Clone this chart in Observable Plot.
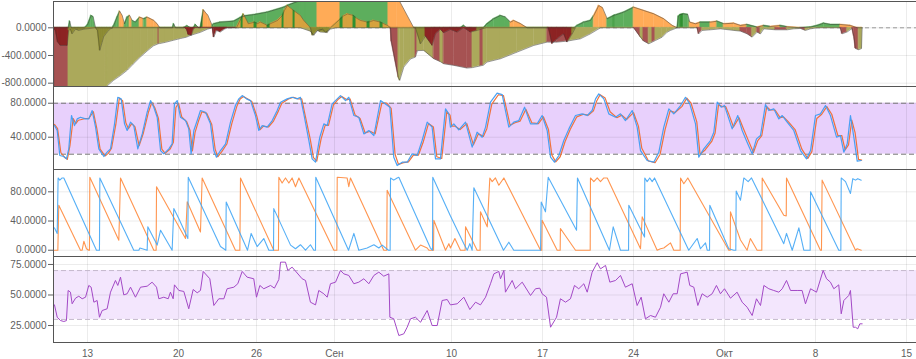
<!DOCTYPE html>
<html><head><meta charset="utf-8">
<script src="https://cdn.jsdelivr.net/npm/d3@7"></script>
<script src="https://cdn.jsdelivr.net/npm/@observablehq/plot@0.6"></script>
<style>
body{margin:0;background:#fff;}
#chart{position:relative;width:916px;height:359px;overflow:hidden;background:#fff;}
</style></head><body><div id="chart"></div>
<script>
// ---- time axis (days from 13 Aug) ----
const xTickDays = [0, 7, 13, 19, 28, 35, 42, 49, 56, 63];
const xTickLabels = ["13","20","26","Сен","10","17","24","Окт","8","15"];
const xRangeDays = [-2.615, 63.77];

// ---- panel 1: oscillator envelopes [day, value, colourClass] ----
const posEnvelope = [[-2.62,0,"G"],[-1.46,0,"G"],[-1.36,96,"G"],[-1.25,0,"G"],[-0.23,0,"G"],[0,40,"G"],[0.28,178,"G"],[0.44,160,"G"],[0.62,0,"G"],[1.92,0,"G"],[2.02,34,"G"],[2.28,154,"G"],[2.48,240,"O"],[2.67,178,"O"],[2.85,58,"G"],[3.05,154,"G"],[3.25,178,"O"],[3.44,106,"G"],[3.69,82,"G"],[4.02,154,"O"],[4.33,130,"G"],[4.59,154,"O"],[4.85,130,"O"],[5.1,106,"O"],[5.36,58,"O"],[5.56,0,"G"],[6.54,0,"G"],[6.64,58,"G"],[6.77,0,"G"],[7.38,0,"G"],[7.67,29,"G"],[7.92,0,"G"],[8.15,0,"G"],[8.31,48,"G"],[8.54,0,"G"],[8.69,0,"D"],[8.92,260,"O"],[9.08,220,"O"],[9.27,178,"O"],[9.59,34,"G"],[9.72,58,"G"],[10.23,82,"G"],[11.25,96,"G"],[11.77,150,"G"],[12.15,175,"G"],[12.79,190,"G"],[13.82,226,"G"],[15.1,298,"G"],[15.46,330,"G"],[16.38,394,"G"],[16.77,450,"G"],[17.69,450,"O"],[19.46,450,"G"],[23.15,450,"O"],[23.82,450,"O"],[25.1,0,"G"],[28.69,0,"G"],[28.95,34,"G"],[29.15,0,"G"],[30.46,0,"G"],[30.74,58,"G"],[31.25,130,"G"],[31.77,178,"G"],[32.15,154,"G"],[32.54,82,"O"],[32.79,106,"O"],[33.31,60,"O"],[33.82,0,"G"],[37.46,0,"G"],[37.67,34,"G"],[38.18,82,"G"],[38.69,106,"G"],[38.95,178,"O"],[39.33,322,"O"],[39.62,290,"O"],[39.98,130,"G"],[40.49,178,"D"],[40.6,185,"G"],[41.25,226,"G"],[42.02,298,"O"],[42.79,250,"O"],[43.56,202,"O"],[44.33,130,"O"],[44.98,34,"O"],[45.36,0,"G"],[45.46,170,"G"],[45.62,192,"D"],[45.87,202,"G"],[46.18,192,"G"],[46.33,82,"O"],[46.77,58,"O"],[47.15,82,"G"],[47.92,82,"O"],[48.44,96,"G"],[48.95,58,"O"],[49.72,67,"O"],[50.23,34,"O"],[50.74,48,"G"],[51.51,10,"O"],[52.03,34,"G"],[52.54,19,"O"],[53.31,34,"G"],[53.82,15,"O"],[54.85,0,"G"],[55.62,10,"G"],[56.13,34,"G"],[56.64,67,"G"],[57.15,48,"G"],[57.92,48,"O"],[58.69,34,"O"],[59.21,0,"O"],[59.62,0,"O"]];
const negEnvelope = [[-2.62,0,"R"],[-2.59,-950,"R"],[-1.46,-950,"V"],[1.38,-950,"V"],[1.54,-835,"V"],[2,-760,"V"],[2.54,-690,"V"],[3.08,-610,"V"],[3.54,-520,"V"],[4.08,-420,"V"],[4.62,-330,"V"],[5.08,-260,"V"],[5.46,-230,"R"],[5.54,-228,"V"],[6,-210,"V"],[6.62,-180,"V"],[7.15,-155,"V"],[7.62,-135,"V"],[7.92,-110,"V"],[8.69,-65,"V"],[9.23,-20,"V"],[9.62,0,"K"],[9.72,-135,"K"],[9.92,-40,"K"],[10.23,-60,"K"],[10.54,-20,"K"],[10.77,0,"V"],[16.38,0,"V"],[17.15,-50,"V"],[17.41,-110,"V"],[17.69,-40,"V"],[18.08,-20,"V"],[18.31,-62,"V"],[18.69,-20,"V"],[19.08,0,"V"],[23.31,0,"R"],[23.38,-200,"R"],[23.92,-720,"V"],[24.02,-760,"V"],[24.33,-568,"V"],[24.85,-450,"V"],[25.23,-423,"R"],[25.38,-330,"V"],[25.87,-327,"V"],[26.64,-447,"R"],[27.15,-490,"V"],[27.41,-520,"R"],[28.18,-543,"R"],[29.2,-582,"R"],[29.62,-575,"V"],[30.23,-550,"R"],[30.46,-540,"V"],[30.74,-495,"V"],[31.77,-447,"V"],[33.05,-351,"V"],[34.33,-255,"V"],[35.36,-207,"R"],[36.13,-207,"R"],[36.92,-192,"V"],[37.92,-159,"V"],[38.69,-87,"V"],[39.46,0,"V"],[42.02,0,"R"],[42.54,-135,"V"],[42.77,-190,"R"],[43.18,-231,"V"],[43.46,-205,"R"],[43.69,-183,"V"],[44.21,-135,"V"],[44.59,-63,"V"],[44.85,-38,"V"],[45.36,0,"V"],[46.9,0,"R"],[47.02,-87,"R"],[47.28,-38,"V"],[47.92,-29,"V"],[48.69,-15,"V"],[49.72,-38,"V"],[50.23,-48,"R"],[50.74,-87,"R"],[51.13,-135,"V"],[51.51,-63,"R"],[51.77,-87,"V"],[52.03,-15,"V"],[52.92,-29,"R"],[53.82,-29,"V"],[54.31,-15,"V"],[54.85,-10,"R"],[55.23,-38,"V"],[55.62,-15,"V"],[56.13,0,"V"],[57.92,0,"R"],[58.05,-87,"R"],[58.44,-60,"V"],[58.82,-10,"R"],[58.95,-120,"R"],[59.08,-300,"R"],[59.33,-317,"V"],[59.54,-300,"V"],[59.59,0,"V"]];
const fastSeries = [[-2.62,0,"K"],[-2.46,-40,"K"],[-2.28,-207,"K"],[-2.08,-255,"K"],[-1.56,-255,"K"],[-1.44,-38,"W"],[-1.31,-20,"W"],[-1.18,-87,"W"],[-0.92,-20,"W"],[-0.67,-38,"W"],[-0.28,-20,"W"],[0.62,0,"W"],[0.77,-38,"W"],[0.95,-327,"W"],[1.13,-207,"W"],[1.25,-130,"W"],[1.52,-60,"W"],[1.77,-15,"W"],[2,0,"W"],[7.46,0,"K"],[7.62,-20,"K"],[7.77,-100,"K"],[8,-110,"K"],[8.15,-20,"K"],[8.31,0,"K"],[11.46,0,"Y"],[11.85,150,"D"],[12,200,"Y"],[12.38,58,"Y"],[12.85,82,"D"],[13.08,60,"Y"],[13.31,82,"Y"],[13.85,34,"D"],[14.08,60,"Y"],[14.62,106,"Y"],[15,178,"D"],[15.15,250,"Y"],[15.38,322,"Y"],[15.85,250,"D"],[16,230,"Y"],[16.38,178,"Y"],[16.62,110,"Y"],[16.92,48,"Y"],[17.15,0,"W"],[17.31,-110,"W"],[17.69,-40,"W"],[17.92,-62,"W"],[18.46,-70,"W"],[18.69,0,"Y"],[19.46,130,"D"],[19.69,170,"Y"],[20,200,"Y"],[20.46,178,"D"],[20.69,140,"Y"],[21,106,"Y"],[21.54,82,"D"],[21.77,90,"Y"],[22,106,"Y"],[22.54,82,"D"],[22.77,60,"Y"],[23.08,34,"Y"],[23.31,0,"Y"],[25.23,0,"W"],[25.62,-231,"W"],[26,-120,"K"],[26.52,-255,"K"],[26.77,-87,"K"],[27.15,-25,"K"],[27.41,-72,"K"],[27.92,-25,"K"],[28.44,-62,"K"],[28.95,0,"K"],[29.46,-62,"K"],[29.98,-38,"W"],[30.36,-15,"W"],[30.69,0,"W"],[35.46,0,"K"],[35.75,-231,"K"],[36.13,-159,"K"],[36.64,-87,"K"],[36.9,-207,"K"],[37.29,-87,"W"],[37.54,0,"W"]];
const p1Ticks = [0, -400, -800];

// ---- panel 2: stochastic [day, value] ----
const stochK = [[-2.54,53.7],[-2.33,47.9],[-2.13,18.5],[-1.82,17.3],[-1.62,14.5],[-1.44,26.3],[-1.23,65.5],[-1,53.7],[-0.79,61.6],[-0.54,63.5],[-0.15,61.6],[0.1,61.6],[0.36,71.4],[0.62,51.8],[0.87,26.3],[1.26,17.3],[1.51,22.4],[1.77,26.3],[2.08,55.7],[2.33,87],[2.59,85.1],[2.85,55.7],[3.05,47.9],[3.31,57.7],[3.56,53.7],[3.87,26.3],[4.21,43.9],[4.59,69.4],[4.85,83.1],[5.1,75.3],[5.36,63.5],[5.62,24.3],[5.87,20.4],[6.26,26.3],[6.51,32.2],[6.69,79.2],[6.9,83.1],[7.15,63.5],[7.54,59.6],[7.79,49.8],[7.97,20.4],[8.18,47.9],[8.44,59.6],[8.69,71.4],[9.08,69.4],[9.46,55.7],[9.72,24.3],[9.92,16.5],[10.23,24.3],[10.62,32.2],[11,57.7],[11.38,77.3],[11.64,85.1],[11.9,89],[12.23,85.1],[12.54,83.1],[12.92,65.5],[13.18,47.9],[13.44,53.7],[13.82,51.8],[14.21,59.6],[14.59,71.4],[14.85,81.2],[15.36,85.1],[15.74,87],[16.13,85.1],[16.38,87],[16.64,67.5],[17.03,36.1],[17.28,14.5],[17.54,10.6],[17.87,40],[18.18,55.7],[18.44,53.7],[18.82,79.2],[19.21,85.1],[19.46,89],[19.85,83.1],[20.1,87],[20.49,65.5],[20.87,63.5],[21.26,43.9],[21.64,47.9],[22.03,42],[22.54,83.1],[22.92,79.2],[23.26,75.3],[23.56,16.5],[23.82,6.7],[24.21,10.6],[24.59,10.6],[24.97,20.4],[25.36,18.5],[25.74,36.1],[26.13,57.7],[26.51,51.8],[26.77,14.5],[27.15,14.5],[27.54,73.4],[27.79,67.5],[27.92,51.8],[28.18,55.7],[28.56,48.6],[29.08,57.7],[29.59,28.3],[29.97,45.9],[30.36,40],[30.62,51.8],[31,81.2],[31.51,91.8],[31.9,90.2],[32.41,51.8],[32.79,57.7],[33.18,59.6],[33.62,75.3],[34.08,55.7],[34.59,55.7],[34.97,65.5],[35.36,47.9],[35.62,16.5],[35.92,10.6],[36.26,18.5],[36.64,36.1],[37.03,49.8],[37.54,65.5],[38.05,67.5],[38.44,65.5],[38.82,71.4],[39.08,85.1],[39.33,91],[39.72,85.1],[40.1,67.5],[40.62,63.5],[41,67.5],[41.38,59.6],[41.9,71.4],[42.28,51.8],[42.54,24.3],[43.05,12.6],[43.56,10.6],[43.95,22.4],[44.33,51.8],[44.72,73.4],[45.1,67.5],[45.62,77.3],[46,87],[46.33,79.2],[46.77,55.7],[47.02,16.5],[47.41,26.3],[47.92,36.1],[48.18,45.9],[48.44,81.2],[48.75,75.3],[49,77.3],[49.21,67.5],[49.59,49.8],[50.02,65.5],[50.36,47.9],[50.74,34.1],[51.13,20.4],[51.46,38],[51.77,42],[52.15,78.4],[52.41,71.4],[52.79,73.4],[53.18,61.6],[53.44,65.5],[53.82,57.7],[54.33,47.9],[54.85,24.3],[55.31,14.5],[55.62,24.3],[56,65.5],[56.38,67.5],[56.77,77.3],[57.15,65.5],[57.62,40],[57.92,42],[58.18,22.4],[58.44,32.2],[58.69,65.5],[58.95,40],[59.21,11.8],[59.52,12.6]];
const stochD = [[-2.54,55],[-2.3,50],[-2.05,22],[-1.75,16],[-1.55,14],[-1.35,30],[-1.1,62],[-0.9,56],[-0.7,60],[-0.15,62],[0.1,62],[0.45,70],[0.72,50],[0.97,26],[1.35,18],[1.6,21],[1.85,27],[2.18,55],[2.45,86],[2.7,83],[2.95,57],[3.15,50],[3.4,56],[3.66,52],[3.97,30],[4.3,45],[4.7,70],[4.95,81],[5.2,74],[5.46,62],[5.72,26],[5.97,21],[6.36,26],[6.61,34],[6.8,75],[7,80],[7.25,64],[7.64,58],[7.89,48],[8.07,24],[8.28,46],[8.54,59],[8.8,70],[9.18,68],[9.56,55],[9.82,26],[10.02,17],[10.33,23],[10.72,32],[11.1,56],[11.48,76],[11.74,85],[12,88],[12.33,85],[12.64,82],[13.02,65],[13.28,49],[13.54,53],[13.92,52],[14.31,59],[14.69,71],[14.95,80],[15.46,85],[15.84,87],[16.23,85],[16.48,85],[16.74,66],[17.13,38],[17.38,16],[17.64,12],[17.97,38],[18.28,54],[18.54,54],[18.92,78],[19.31,85],[19.56,88],[19.95,84],[20.2,85],[20.59,66],[20.97,62],[21.36,45],[21.74,47],[22.13,44],[22.64,80],[23.02,80],[23.36,74],[23.66,20],[23.92,8],[24.31,10],[24.69,11],[25.07,19],[25.46,19],[25.84,35],[26.23,56],[26.61,52],[26.87,17],[27.25,15],[27.64,70],[27.89,66],[28.02,53],[28.28,53],[28.66,49],[29.18,56],[29.69,31],[30.07,44],[30.46,41],[30.72,50],[31.1,79],[31.61,90],[32,89],[32.51,54],[32.89,57],[33.28,59],[33.72,73],[34.18,57],[34.69,56],[35.07,64],[35.46,49],[35.72,19],[36.02,11],[36.36,17],[36.74,35],[37.13,49],[37.64,64],[38.15,67],[38.54,66],[38.92,71],[39.18,83],[39.43,90],[39.82,86],[40.2,70],[40.72,63],[41.1,66],[41.48,61],[42,69],[42.38,53],[42.64,27],[43.15,12],[43.66,10],[44.05,20],[44.43,49],[44.82,71],[45.2,69],[45.72,76],[46.1,86],[46.43,80],[46.87,58],[47.12,20],[47.51,25],[48.02,35],[48.28,45],[48.54,78],[48.85,76],[49.1,76],[49.31,68],[49.69,52],[50.12,63],[50.46,50],[50.84,36],[51.23,22],[51.56,36],[51.87,42],[52.25,76],[52.51,72],[52.89,72],[53.28,63],[53.54,64],[53.92,58],[54.43,49],[54.95,26],[55.41,15],[55.72,23],[56.1,62],[56.48,67],[56.87,76],[57.25,67],[57.72,42],[58.02,42],[58.28,25],[58.54,31],[58.79,60],[59.05,45],[59.31,14],[59.55,13]];
const stochBand = [20, 80];
const p2Ticks = [40, 80];

// ---- panel 3: aroon [day, value] ----
const aroonUp = [[-2.54,30.6],[-2.33,22.9],[-2.26,99],[-2.13,96],[-1.95,99],[-1.82,99],[0.69,0],[0.92,0],[0.95,99],[3.56,0],[3.95,0],[4.03,3],[4.59,0],[4.64,32],[5.36,7],[5.62,27.4],[6.51,0],[6.64,57],[7.03,43],[7.72,16],[7.75,100],[10.23,5],[10.64,0],[10.67,66],[12.31,0],[12.59,23],[13.05,5],[13.56,16],[13.95,0],[14.31,0],[14.33,57],[15.62,7],[16,2],[16.38,7.5],[16.77,0],[17.15,7.5],[17.41,0],[17.54,0],[17.56,100],[20.08,0],[20.49,23],[20.87,0],[21.51,3],[22.03,7.5],[22.41,3],[22.67,7],[23.15,0],[23.28,0],[23.31,99],[23.56,96],[23.82,99],[23.95,100],[26.38,3],[26.54,0],[26.56,100],[27.92,47],[28.95,9],[29.21,0],[29.41,9],[29.59,0],[29.72,85.5],[32,0],[32.41,11],[32.79,0],[34.85,0],[34.9,66],[35.23,52.6],[35.44,100],[37.62,27.4],[37.69,99],[40.15,0],[40.44,32],[41,0],[41.62,0],[41.64,61.7],[42.54,29],[42.85,18],[42.87,99],[43.05,94],[43.25,99],[43.44,94],[43.62,99],[46.25,0],[46.9,16],[47.15,2],[47.54,10],[47.67,0],[47.85,0],[47.87,61.7],[49.33,2],[49.72,0],[49.87,0],[49.9,81],[50.23,68.5],[50.49,99],[50.82,94],[51.08,99],[53.56,9],[53.77,23],[54.21,0],[54.72,30.6],[55.1,0],[55.59,0],[55.62,80],[57.79,0],[57.95,0],[57.98,99],[58.31,94],[58.69,77.7],[58.87,98],[59.08,96],[59.25,98],[59.52,96]];
const aroonDown = [[-2.54,0],[-2.28,0],[-2.21,61.7],[-0.54,0],[-0.41,0],[-0.28,12.3],[-0.08,2],[0.1,0],[0.15,0],[0.18,100],[2.41,13.7],[2.54,99],[5.1,0],[5.28,0],[5.31,86.8],[7.54,16],[7.67,66.3],[8.69,25],[8.82,99],[11.38,0],[11.72,0],[11.77,99],[14.33,0],[14.69,0],[14.72,100],[14.97,92],[15.23,99],[15.49,92],[15.74,99],[16,87],[16.26,99],[18.95,0],[19.18,0],[19.21,100],[19.97,99],[20.1,87],[20.23,99],[22.79,0],[23.02,0],[23.05,82],[25.23,0],[25.62,7],[26.13,3],[26.26,0],[26.62,0],[26.64,41],[27.54,0],[27.8,9],[27.92,3],[28.26,16],[28.69,0],[29.05,0],[29.08,32],[29.97,0],[30.2,0],[30.23,52.6],[30.75,32],[30.95,99],[31.13,94],[31.38,99],[31.64,89],[32.03,99],[34.85,0],[34.94,0],[34.97,41],[36.13,0],[36.36,0],[36.38,29.7],[37.54,0],[38.67,0],[38.69,99],[38.95,94],[39.21,99],[39.46,94],[39.72,99],[39.98,99],[42.54,2],[42.67,45.7],[43.82,0],[44.08,2],[44.33,3],[44.85,10],[45.1,0],[45.59,0],[45.62,99],[45.87,91],[46.18,99],[49.33,0],[49.44,0],[49.46,52.6],[50.23,14],[50.74,0],[50.99,16],[51.51,0],[51.87,0],[51.9,99],[53.56,48],[53.75,47],[53.77,99],[56.38,0],[56.46,0],[56.51,96],[59.08,0],[59.21,2],[59.52,0]];
const p3Ticks = [0, 40, 80];

// ---- panel 4: RSI [day, value] ----
const rsi = [[-2.54,41.9],[-2.33,31.8],[-2.08,29.1],[-1.82,28.3],[-1.62,29],[-1.49,53.7],[-1.31,52.3],[-1.18,42.8],[-0.92,47.4],[-0.67,49],[-0.41,46.9],[-0.15,48.2],[0.1,57.8],[0.28,56.4],[0.49,44.1],[0.74,45.5],[0.92,31.8],[1.13,37.3],[1.51,38.7],[1.77,52.3],[2.15,61.9],[2.33,57.8],[2.54,64.6],[2.79,50.1],[3.05,51],[3.31,56.4],[3.69,48.2],[4.08,56.4],[4.59,57.2],[4.97,60.5],[5.31,56.4],[5.49,46.9],[5.87,48.2],[6.21,46.9],[6.38,52.3],[6.59,46.9],[6.69,58.3],[7.03,53.7],[7.41,52.9],[7.79,38.7],[8.13,54.5],[8.44,51.8],[8.69,53.7],[8.9,69.3],[9.41,63.3],[9.72,41.4],[10.1,46.9],[10.49,46.9],[10.74,55.1],[11.26,56.4],[11.56,59.2],[11.9,69.3],[12.28,64.6],[12.79,63.3],[13,48.2],[13.26,57.8],[13.56,55.1],[14.08,57.8],[14.38,55.6],[14.72,62.7],[14.85,76.9],[15.23,76.9],[15.41,70.1],[15.74,72.8],[16.51,63.3],[16.77,61.9],[17.15,44.1],[17.54,41.9],[17.79,53.7],[18.18,51],[18.44,48.2],[18.69,59.2],[19.08,60.5],[19.46,70.1],[19.72,67.3],[20.1,66],[20.49,59.2],[20.87,60.5],[21.26,63.3],[21.64,59.2],[22.03,66],[22.41,68.7],[22.79,65.4],[23.18,67.3],[23.26,31.8],[23.56,30.5],[23.95,16.8],[24.33,18.2],[24.59,23.6],[24.85,30.5],[25.23,31.8],[25.62,27.7],[26.13,37.3],[26.51,25],[26.9,25],[27.28,45.5],[27.67,46.3],[27.92,41.9],[28.44,42.8],[28.95,48.2],[29.41,38.1],[29.85,44.1],[30.23,41.9],[30.62,48.2],[31,59.2],[31.26,67.3],[31.64,69.3],[31.77,63.3],[32.03,70.1],[32.15,52.3],[32.67,61.9],[32.92,55.1],[33.44,60.5],[34.08,49.6],[34.46,55.1],[34.79,55.6],[34.97,51],[35.31,48.2],[35.62,23.6],[36.08,31.8],[36.38,46.9],[36.77,44.1],[37.15,46.9],[37.46,57.8],[37.79,55.1],[38.18,59.2],[38.44,52.3],[38.82,68.7],[39.21,76.4],[39.46,71.4],[39.85,74.2],[40.18,60.5],[40.62,61.9],[41,66],[41.38,56.4],[41.9,59.2],[42.28,41.4],[42.59,48.2],[42.92,30.5],[43.31,33.2],[43.69,31.8],[44.08,40],[44.33,51],[44.72,44.1],[45.05,51],[45.36,51],[45.62,67.3],[46.13,68.7],[46.33,57.8],[46.64,56.4],[46.95,41.4],[47.28,51],[47.67,48.2],[48.05,51],[48.38,57.8],[48.69,51],[49,55.1],[49.46,47.4],[49.97,52.3],[50.36,44.1],[50.74,40],[51.13,33.2],[51.46,46.9],[51.77,41.4],[52.03,57.8],[52.41,55.1],[52.79,53.7],[53.18,52.3],[53.44,55.1],[53.77,61.9],[54.08,53.7],[54.59,53.7],[54.97,53.7],[55.23,42.8],[55.62,55.1],[56.08,52.3],[56.59,70.1],[56.85,63.3],[57.15,60.5],[57.41,55.1],[57.79,58.3],[57.98,34.6],[58.18,45.5],[58.56,49.6],[58.69,53.7],[58.9,23.6],[59.08,23.6],[59.25,22.3],[59.41,26.4],[59.59,26.4]];
const rsiBand = [30, 70];
const p4Ticks = [25, 50, 75];

// ---- rendering ----
const BASE = Date.UTC(2018, 7, 13);
const toDate = t => new Date(BASE + t * 864e5);
const xDomain = xRangeDays.map(toDate);
const xTicks = xTickDays.map(toDate);
const labelOf = new Map(xTicks.map((d, i) => [+d, xTickLabels[i]]));
const X = d => toDate(d[0]);
const Y = d => d[1];
const classColor = {G:"#5dae5d", O:"#ffab57", D:"#2f9030", V:"#aba95b", R:"#a65252", K:"#8c2323", W:"#8c8a32", Y:"#d6a23e"};
function segments(series) {
  const out = [];
  for (let i = 0; i < series.length - 1; i++) {
    const [t0, v0, c] = series[i], [t1, v1] = series[i + 1];
    out.push({x: toDate(t0), v: v0, k: i, fill: classColor[c]}, {x: toDate(t1), v: v1, k: i, fill: classColor[c]});
  }
  return out;
}
const chart = document.getElementById("chart");
function addPanel({top, height, marginTop, marginBottom, yDomain, yTicks, marks, xAxis}) {
  const svg = Plot.plot({
    width: 916, height, marginLeft: 53, marginRight: 0, marginTop, marginBottom,
    style: {fontSize: "10px", fontFamily: "'Liberation Sans', Arial, sans-serif", color: "#606060", background: "transparent"},
    x: {type: "utc", domain: xDomain, ticks: xTicks, tickFormat: d => labelOf.get(+d) ?? "", tickSize: 0, tickPadding: 7, label: null, axis: xAxis ? "bottom" : null},
    y: {domain: yDomain, ticks: yTicks, tickFormat: d => d.toFixed(4), tickSize: 5, tickPadding: 2, label: null},
    color: {type: "identity"},
    marks: [
      ...marks,
      Plot.ruleY([yDomain[0]], {stroke: "#555"}),
      Plot.ruleX([xDomain[0]], {stroke: "#555"})
    ]
  });
  svg.style.position = "absolute";
  svg.style.left = "0px";
  svg.style.top = top + "px";
  chart.appendChild(svg);
}
const vGrid = Plot.ruleX(xTicks, {stroke: "#000", strokeOpacity: 0.08});
const segOpts = {x: "x", y1: 0, y2: "v", z: "k", fill: "fill", stroke: "fill", strokeWidth: 0.5, clip: true};

// panel 1
const p1Domain = [-848, 380];
addPanel({top: 0, height: 88, marginTop: 1, marginBottom: 2, yDomain: p1Domain, yTicks: p1Ticks, marks: [
  vGrid,
  Plot.ruleY(p1Ticks, {stroke: "#000", strokeOpacity: 0.08}),
  Plot.ruleY([0], {stroke: "#999", strokeDasharray: "4,3"}),
  Plot.areaY(segments(posEnvelope), segOpts),
  Plot.areaY(segments(negEnvelope), segOpts),
  Plot.areaY(segments(fastSeries), segOpts),
  Plot.line(fastSeries, {x: X, y: Y, stroke: "#333", strokeWidth: 0.6, strokeOpacity: 0.6, clip: true}),
  Plot.line(posEnvelope, {x: X, y: Y, stroke: "#3a3a3a", strokeWidth: 0.7, strokeOpacity: 0.7, clip: true}),
  Plot.line(negEnvelope, {x: X, y: Y, stroke: "#3a3a3a", strokeWidth: 0.7, strokeOpacity: 0.7, clip: true}),
  Plot.ruleY([p1Domain[1]], {stroke: "#555"})
]});

// panel 2
addPanel({top: 86, height: 85, marginTop: 1, marginBottom: 2, yDomain: [2, 98.5], yTicks: p2Ticks, marks: [
  Plot.rect([stochBand], {x1: () => xDomain[0], x2: () => xDomain[1], y1: d => d[0], y2: d => d[1], fill: "#e8d0fc"}),
  vGrid,
  Plot.ruleY(p2Ticks, {stroke: "#000", strokeOpacity: 0.08}),
  Plot.ruleY(stochBand, {stroke: "#777", strokeDasharray: "5,3"}),
  Plot.line(stochD, {x: X, y: Y, stroke: "#f0713c", strokeWidth: 1.2}),
  Plot.line(stochK, {x: X, y: Y, stroke: "#3f9cf2", strokeWidth: 1.2, strokeOpacity: 0.95})
]});

// panel 3
addPanel({top: 169, height: 90, marginTop: 1, marginBottom: 3, yDomain: [-8.6, 109.2], yTicks: p3Ticks, marks: [
  vGrid,
  Plot.ruleY(p3Ticks, {stroke: "#000", strokeOpacity: 0.08}),
  Plot.line(aroonDown, {x: X, y: Y, stroke: "#ff8a3c", strokeWidth: 1.1, strokeOpacity: 0.9}),
  Plot.line(aroonUp, {x: X, y: Y, stroke: "#42a6f5", strokeWidth: 1.1, strokeOpacity: 0.9})
]});

// panel 4
addPanel({top: 256, height: 103, marginTop: 1, marginBottom: 17, yDomain: [11.1, 80.7], yTicks: p4Ticks, xAxis: true, marks: [
  Plot.rect([rsiBand], {x1: () => xDomain[0], x2: () => xDomain[1], y1: d => d[0], y2: d => d[1], fill: "#f3e6fd"}),
  vGrid,
  Plot.ruleY(p4Ticks, {stroke: "#000", strokeOpacity: 0.08}),
  Plot.ruleY(rsiBand, {stroke: "#c4b8cc", strokeDasharray: "5,3"}),
  Plot.line(rsi, {x: X, y: Y, stroke: "#a349c6", strokeWidth: 1})
]});
</script></body></html>
